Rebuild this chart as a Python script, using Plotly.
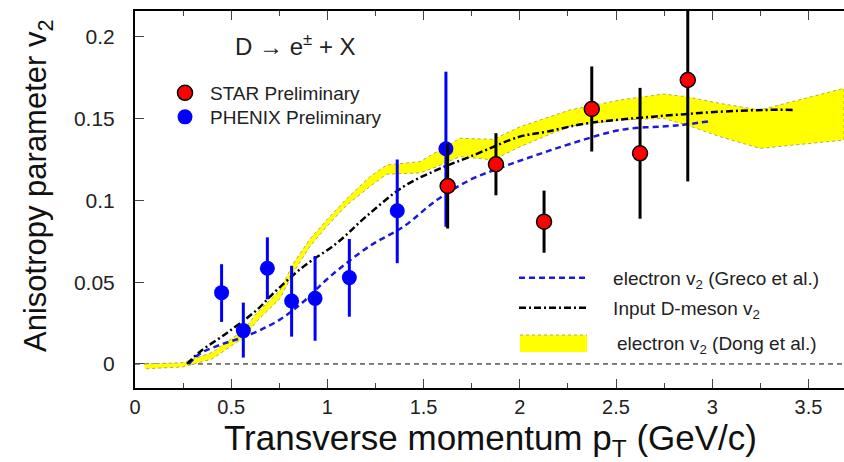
import plotly.graph_objects as go

# ---------------- data ----------------
star_x = [1.625, 1.876, 2.126, 2.374, 2.625, 2.873]
star_y = [0.1088, 0.1221, 0.087, 0.1559, 0.1288, 0.1736]
star_err = [0.026, 0.019, 0.019, 0.026, 0.040, 0.062]

phenix_x = [0.45, 0.563, 0.688, 0.814, 0.936, 1.114, 1.363, 1.616]
phenix_y = [0.0436, 0.0204, 0.0585, 0.0385, 0.0401, 0.0528, 0.0937, 0.1316]
phenix_err_up = [0.0174, 0.0171, 0.0189, 0.0215, 0.0259, 0.0236, 0.0313, 0.0471]
phenix_err_dn = [0.0179, 0.0165, 0.0190, 0.0218, 0.0259, 0.0239, 0.0321, 0.0477]

greco_x = [0.28, 0.34, 0.45, 0.546, 0.615, 0.754, 0.875, 1.013, 1.221, 1.395,
           1.568, 1.741, 1.914, 2.088, 2.261, 2.521, 2.833, 3.0]
greco_y = [0.0, 0.0065, 0.012, 0.0157, 0.0188, 0.0272, 0.038, 0.0534, 0.0722, 0.0839,
           0.1002, 0.1125, 0.1206, 0.1278, 0.1345, 0.143, 0.146, 0.1487]

dmeson_x = [0.27, 0.338, 0.476, 0.633, 0.719, 0.875, 1.048, 1.2, 1.395, 1.568,
            1.741, 2.0, 2.139, 2.348, 2.694, 3.04, 3.266, 3.43]
dmeson_y = [0.0, 0.0075, 0.0188, 0.033, 0.0432, 0.0595, 0.0738, 0.090, 0.1084, 0.1186,
            0.1267, 0.139, 0.142, 0.1471, 0.1512, 0.1542, 0.1553, 0.1553]

dong_x = [0.05, 0.25, 0.4, 0.563, 0.632, 0.754, 0.823, 0.91, 0.996, 1.1, 1.22, 1.308,
          1.481, 1.568, 1.689, 1.862, 2.001, 2.261, 2.521, 2.746, 2.867, 3.04, 3.248, 3.685]
dong_hi = [0.0, 0.0008, 0.007, 0.0205, 0.031, 0.045, 0.0615, 0.0765, 0.088, 0.101, 0.1145, 0.1216,
           0.1237, 0.1298, 0.138, 0.1373, 0.145, 0.1553, 0.1614, 0.165, 0.1634, 0.1593, 0.1553, 0.1685]
dong_lo = [-0.003, -0.0018, 0.003, 0.016, 0.026, 0.040, 0.056, 0.072, 0.084, 0.097, 0.1084, 0.116,
           0.1168, 0.1206, 0.1268, 0.1247, 0.1328, 0.1455, 0.1491, 0.1502, 0.1461, 0.139, 0.1318, 0.1369]

x_ticks = [0, 0.5, 1, 1.5, 2, 2.5, 3, 3.5]
x_ticktext = ["0", "0.5", "1", "1.5", "2", "2.5", "3", "3.5"]
y_ticks = [0, 0.05, 0.1, 0.15, 0.2]
y_ticktext = ["0", "0.05", "0.1", "0.15", "0.2"]

FONT = "Liberation Sans, Arial, Helvetica, sans-serif"
NB = "\u00a0" * 4

fig = go.Figure()

# Dong band (closed polygon)
fig.add_trace(go.Scatter(
    x=dong_x + dong_x[::-1], y=dong_hi + dong_lo[::-1],
    fill="toself", fillcolor="#ffff00", mode="lines",
    line=dict(color="#b0a860", width=1, dash="dot"),
    name="electron v<sub>2</sub> (Dong et al.)", showlegend=False, hoverinfo="skip"))

fig.add_trace(go.Scatter(
    x=greco_x, y=greco_y, mode="lines", line=dict(color="#1a1ad8", width=2.5, dash="6px,4px", shape="spline"),
    name=NB + "electron v<sub>2</sub> (Greco et al.)", legend="legend3"))

fig.add_trace(go.Scatter(
    x=dmeson_x, y=dmeson_y, mode="lines", line=dict(color="black", width=2.5, dash="7px,3px,2px,3px", shape="spline"),
    name=NB + "Input D-meson v<sub>2</sub>", legend="legend4"))

fig.add_trace(go.Scatter(
    x=phenix_x, y=phenix_y, mode="markers",
    marker=dict(color="#0000ff", size=15, line=dict(width=0)),
    error_y=dict(type="data", symmetric=False, array=phenix_err_up, arrayminus=phenix_err_dn,
                 color="#0000ff", thickness=3, width=0),
    name="PHENIX Preliminary", legend="legend2"))

fig.add_trace(go.Scatter(
    x=star_x, y=star_y, mode="markers",
    marker=dict(color="#ff0000", size=15, line=dict(width=1.5, color="black")),
    error_y=dict(type="data", array=star_err, color="black", thickness=3, width=0),
    name="STAR Preliminary", legend="legend"))

# zero reference line
fig.add_shape(type="line", xref="paper", yref="y", x0=0, x1=1, y0=0, y1=0,
              line=dict(color="black", width=1, dash="5px,4px"), layer="below")


def pxx(px):
    return (px - 135) / 709.0


def pxy(py):
    return (388 - py) / 377.0


# manual legend entry for the Dong band
fig.add_shape(type="rect", xref="paper", yref="paper",
              x0=pxx(520), x1=pxx(587), y0=pxy(352), y1=pxy(335),
              fillcolor="#ffff00", line=dict(width=0), layer="above")
fig.add_shape(type="line", xref="paper", yref="paper",
              x0=pxx(520), x1=pxx(587), y0=pxy(335), y1=pxy(335),
              line=dict(color="#b0a860", width=1, dash="dot"), layer="above")
fig.add_annotation(text="electron v<sub>2</sub> (Dong et al.)", xref="paper", yref="paper",
                   x=pxx(615), y=pxy(345), xanchor="left", yanchor="middle", showarrow=False,
                   font=dict(family=FONT, size=19, color="#222"))

leg_small = dict(bgcolor="rgba(0,0,0,0)", borderwidth=0, xanchor="left", yanchor="middle",
                 itemwidth=40, font=dict(family=FONT, size=19, color="#222"))
leg_line = dict(bgcolor="rgba(0,0,0,0)", borderwidth=0, xanchor="left", yanchor="middle",
                itemwidth=68, font=dict(family=FONT, size=19, color="#222"))
fig.update_layout(
    legend=dict(x=pxx(160), y=pxy(93), **leg_small),
    legend2=dict(x=pxx(160), y=pxy(117), **leg_small),
    legend3=dict(x=pxx(514), y=pxy(278), **leg_line),
    legend4=dict(x=pxx(514), y=pxy(308), **leg_line),
)

fig.add_annotation(text="D \u2192 e<sup>\u00b1</sup> + X", xref="paper", yref="paper",
                   x=pxx(295), y=pxy(45), xanchor="center", yanchor="middle", showarrow=False,
                   font=dict(family=FONT, size=24, color="#222"))

fig.add_annotation(text="Anisotropy parameter v<sub>2</sub>", xref="paper", yref="paper",
                   x=pxx(38), y=pxy(186), xanchor="center", yanchor="middle", textangle=-90,
                   showarrow=False, font=dict(family=FONT, size=31, color="#111"))

fig.add_annotation(text="Transverse momentum p<sub>T</sub> (GeV/c)", xref="paper", yref="paper",
                   x=pxx(490), y=pxy(440), xanchor="center", yanchor="middle", showarrow=False,
                   font=dict(family=FONT, size=35, color="#111"))

fig.update_xaxes(range=[0, 3.685], showline=True, linecolor="black", linewidth=2, mirror="allticks",
                 ticks="inside", ticklen=9, tickwidth=1, tickcolor="#444",
                 tickvals=x_ticks, ticktext=x_ticktext,
                 minor=dict(tick0=0, dtick=0.25, ticks="inside", ticklen=5, tickwidth=1, tickcolor="#444"),
                 tickfont=dict(family=FONT, size=20, color="#222"),
                 showgrid=False, zeroline=False)
fig.update_yaxes(range=[-0.0147, 0.2158], showline=True, linecolor="black", linewidth=2,
                 ticks="inside", ticklen=9, tickwidth=1, tickcolor="#444",
                 tickvals=y_ticks, ticktext=y_ticktext,
                 tickfont=dict(family=FONT, size=21, color="#222"), ticklabelstandoff=14,
                 showgrid=False, zeroline=False)

fig.update_layout(width=844, height=462, margin=dict(l=135, r=0, t=11, b=74),
                  plot_bgcolor="white", paper_bgcolor="white",
                  font=dict(family=FONT), showlegend=True)

fig.write_html("out.html", config={"displayModeBar": False},
               post_script="document.body.style.margin='0';")
